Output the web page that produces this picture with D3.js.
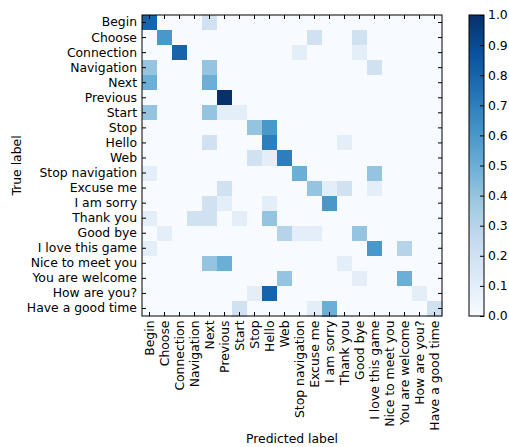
<!DOCTYPE html>
<html><head><meta charset="utf-8">
<script src="https://cdn.jsdelivr.net/npm/d3@7"></script>
<style>body{margin:0;background:#fff} text{font-family:"DejaVu Sans",sans-serif}</style>
</head><body><svg id="c" width="509" height="447"></svg>
<script>
const classes = ["Begin","Choose","Connection","Navigation","Next","Previous","Start","Stop","Hello","Web","Stop navigation","Excuse me","I am sorry","Thank you","Good bye","I love this game","Nice to meet you","You are welcome","How are you?","Have a good time"];
// normalized confusion matrix, rows = true label, columns = predicted label
const matrix = [
 [0.8,0,0,0,0.2,0,0,0,0,0,0,0,0,0,0,0,0,0,0,0],
 [0,0.6,0,0,0,0,0,0,0,0,0,0.2,0,0,0.2,0,0,0,0,0],
 [0,0,0.8,0,0,0,0,0,0,0,0.1,0,0,0,0.1,0,0,0,0,0],
 [0.4,0,0,0,0.4,0,0,0,0,0,0,0,0,0,0,0.2,0,0,0,0],
 [0.5,0,0,0,0.5,0,0,0,0,0,0,0,0,0,0,0,0,0,0,0],
 [0,0,0,0,0,1.0,0,0,0,0,0,0,0,0,0,0,0,0,0,0],
 [0.4,0,0,0,0.4,0.1,0.1,0,0,0,0,0,0,0,0,0,0,0,0,0],
 [0,0,0,0,0,0,0,0.4,0.6,0,0,0,0,0,0,0,0,0,0,0],
 [0,0,0,0,0.2,0,0,0,0.7,0,0,0,0,0.1,0,0,0,0,0,0],
 [0,0,0,0,0,0,0,0.2,0.1,0.7,0,0,0,0,0,0,0,0,0,0],
 [0.1,0,0,0,0,0,0,0,0,0,0.5,0,0,0,0,0.4,0,0,0,0],
 [0,0,0,0,0,0.2,0,0,0,0,0,0.4,0.1,0.2,0,0.1,0,0,0,0],
 [0,0,0,0,0.2,0.1,0,0,0.1,0,0,0,0.6,0,0,0,0,0,0,0],
 [0.1,0,0,0.2,0.2,0,0.1,0,0.4,0,0,0,0,0,0,0,0,0,0,0],
 [0,0.1,0,0,0,0,0,0,0,0.3,0.1,0.1,0,0,0.4,0,0,0,0,0],
 [0.1,0,0,0,0,0,0,0,0,0,0,0,0,0,0,0.6,0,0.3,0,0],
 [0,0,0,0,0.4,0.5,0,0,0,0,0,0,0,0.1,0,0,0,0,0,0],
 [0,0,0,0,0,0,0,0,0,0.4,0,0,0,0,0.1,0,0,0.5,0,0],
 [0,0,0,0,0,0,0,0.1,0.8,0,0,0,0,0,0,0,0,0,0.1,0],
 [0,0,0,0,0,0,0.2,0,0,0,0,0.1,0.5,0,0,0,0,0,0,0.2]
];
const cbarTicks = [0.0,0.1,0.2,0.3,0.4,0.5,0.6,0.7,0.8,0.9,1.0];
const bluesStops = ["#f7fbff","#deebf7","#c6dbef","#9ecae1","#6baed6","#4292c6","#2171b5","#08519c","#08306b"];

const svg = d3.select("#c");
const L=142, R=442, T=15, B=316;
const FS = "12.4px";
const x = d3.scaleBand().domain(classes).range([L,R]);
const y = d3.scaleBand().domain(classes).range([T,B]);
const color = d3.scaleLinear().domain(d3.range(9).map(i=>i/8)).range(bluesStops).clamp(true);

const cells = [];
matrix.forEach((row,i)=>row.forEach((v,j)=>cells.push({t:classes[i],p:classes[j],v})));
svg.append("g").selectAll("rect").data(cells).join("rect")
  .attr("x",d=>x(d.p)).attr("y",d=>y(d.t))
  .attr("width",x.bandwidth()+0.5).attr("height",y.bandwidth()+0.5)
  .attr("fill",d=>color(d.v)).attr("shape-rendering","crispEdges");

function styleAxis(g){
  g.select(".domain").remove();
  g.selectAll("line").attr("stroke","#000");
  g.selectAll("text").attr("fill","#000").style("font-size",FS);
}
// bottom
svg.append("g").attr("transform",`translate(0,${B})`)
  .call(d3.axisBottom(x).tickSizeInner(-4).tickSizeOuter(0))
  .call(styleAxis)
  .call(g=>g.selectAll("text").attr("transform","rotate(-90)").attr("x",-4.5).attr("y",0).attr("dy","0.35em").style("text-anchor","end"));
// top
svg.append("g").attr("transform",`translate(0,${T})`)
  .call(d3.axisTop(x).tickSizeInner(-4).tickSizeOuter(0).tickFormat(""))
  .call(styleAxis);
// left
svg.append("g").attr("transform",`translate(${L},0)`)
  .call(d3.axisLeft(y).tickSizeInner(-4).tickSizeOuter(0).tickPadding(5))
  .call(styleAxis);
// right
svg.append("g").attr("transform",`translate(${R},0)`)
  .call(d3.axisRight(y).tickSizeInner(-4).tickSizeOuter(0).tickFormat(""))
  .call(styleAxis);
svg.append("rect").attr("x",L).attr("y",T).attr("width",R-L).attr("height",B-T)
  .attr("fill","none").attr("stroke","#000").attr("stroke-width",1);

svg.append("text").attr("x",(L+R)/2).attr("y",443).attr("text-anchor","middle").style("font-size",FS).text("Predicted label");
svg.append("text").attr("transform",`translate(21,${(T+B)/2}) rotate(-90)`).attr("text-anchor","middle").style("font-size",FS).text("True label");

// colorbar
const CX=469, CW=15;
const defs = svg.append("defs");
const grad = defs.append("linearGradient").attr("id","cb").attr("x1",0).attr("y1",1).attr("x2",0).attr("y2",0);
bluesStops.forEach((c,i)=>grad.append("stop").attr("offset",i/8).attr("stop-color",c));
svg.append("rect").attr("x",CX).attr("y",T).attr("width",CW).attr("height",B-T).attr("fill","url(#cb)").attr("stroke","#000");
const cy = d3.scaleLinear().domain([0,1]).range([B,T]);
svg.append("g").attr("transform",`translate(${CX+CW},0)`)
  .call(d3.axisRight(cy).tickValues(cbarTicks).tickFormat(d3.format(".1f")).tickSizeInner(-4).tickSizeOuter(0).tickPadding(4))
  .call(styleAxis);
</script></body></html>
